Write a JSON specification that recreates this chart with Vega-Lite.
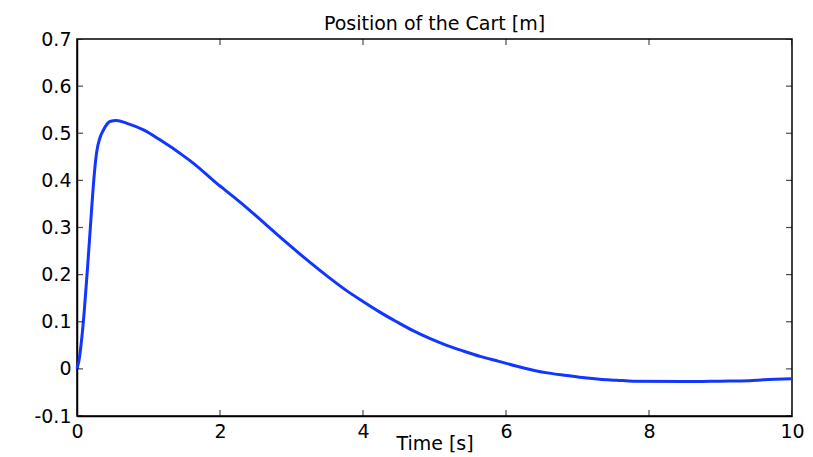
{
  "$schema": "https://vega.github.io/schema/vega-lite/v6.json",
  "autosize": "none",
  "padding": {"left": 77, "top": 39, "right": 21, "bottom": 41},
  "width": 715,
  "height": 377,
  "background": "white",
  "config": {
    "view": {"stroke": "black", "strokeWidth": 1.5},
    "font": "DejaVu Sans",
    "axis": {"grid": false, "domainColor": "black", "labelColor": "black", "titleColor": "black", "labelFontSize": 19, "titleFontSize": 19, "titleFontWeight": "normal", "labelFont": "DejaVu Sans", "titleFont": "DejaVu Sans", "domainWidth": 1.5, "labelFlush": false, "labelOverlap": false, "ticks": false, "labelPadding": 6}
  },
  "title": {"text": "Position of the Cart [m]", "fontSize": 19, "fontWeight": "normal", "font": "DejaVu Sans", "color": "black", "offset": -19, "baseline": "alphabetic", "anchor": "middle"},
  "datasets": {
    "curve": [
      {"t": 0, "v": 0},
      {"t": 0.03, "v": 0.02},
      {"t": 0.07, "v": 0.07},
      {"t": 0.1, "v": 0.12},
      {"t": 0.15, "v": 0.22},
      {"t": 0.205, "v": 0.34},
      {"t": 0.24, "v": 0.41},
      {"t": 0.275, "v": 0.46},
      {"t": 0.32, "v": 0.49},
      {"t": 0.37, "v": 0.507},
      {"t": 0.46, "v": 0.525},
      {"t": 0.55, "v": 0.527},
      {"t": 0.7, "v": 0.521},
      {"t": 0.93, "v": 0.507},
      {"t": 1.16, "v": 0.486},
      {"t": 1.49, "v": 0.452},
      {"t": 1.63, "v": 0.436},
      {"t": 1.95, "v": 0.394},
      {"t": 2.2, "v": 0.364},
      {"t": 2.42, "v": 0.336},
      {"t": 2.65, "v": 0.305},
      {"t": 2.89, "v": 0.273},
      {"t": 3.17, "v": 0.237},
      {"t": 3.54, "v": 0.192},
      {"t": 3.77, "v": 0.166},
      {"t": 4.0, "v": 0.143},
      {"t": 4.23, "v": 0.121},
      {"t": 4.47, "v": 0.1},
      {"t": 4.7, "v": 0.081},
      {"t": 4.94, "v": 0.064},
      {"t": 5.17, "v": 0.05},
      {"t": 5.4, "v": 0.038},
      {"t": 5.65, "v": 0.026},
      {"t": 5.9, "v": 0.016},
      {"t": 6.14, "v": 0.006},
      {"t": 6.38, "v": -0.003},
      {"t": 6.6, "v": -0.009},
      {"t": 6.85, "v": -0.014},
      {"t": 7.1, "v": -0.019},
      {"t": 7.31, "v": -0.022},
      {"t": 7.55, "v": -0.024},
      {"t": 7.78, "v": -0.026},
      {"t": 8.5, "v": -0.027},
      {"t": 9.0, "v": -0.026},
      {"t": 9.4, "v": -0.025},
      {"t": 9.6, "v": -0.023},
      {"t": 10, "v": -0.021}
    ],
    "xticks": [{"t": 0}, {"t": 2}, {"t": 4}, {"t": 6}, {"t": 8}, {"t": 10}],
    "yticks": [{"v": -0.1}, {"v": 0}, {"v": 0.1}, {"v": 0.2}, {"v": 0.3}, {"v": 0.4}, {"v": 0.5}, {"v": 0.6}, {"v": 0.7}]
  },
  "layer": [
    {
      "data": {"name": "curve"},
      "mark": {"type": "line", "color": "#1136ff", "strokeWidth": 3, "interpolate": "monotone"},
      "encoding": {
        "x": {"field": "t", "type": "quantitative", "scale": {"domain": [0, 10], "nice": false, "zero": false},
          "axis": {"title": "Time [s]", "values": [0, 2, 4, 6, 8, 10], "titleY": 33, "titleBaseline": "alphabetic"}},
        "y": {"field": "v", "type": "quantitative", "scale": {"domain": [-0.1, 0.7], "nice": false, "zero": false},
          "axis": {"title": null, "values": [-0.1, 0, 0.1, 0.2, 0.3, 0.4, 0.5, 0.6, 0.7],
            "labelExpr": "abs(datum.value) < 1e-9 ? '0' : (datum.value < 0 ? '-' + format(-datum.value, '.1f') : format(datum.value, '.1f'))"}}
      }
    },
    {
      "data": {"name": "xticks"},
      "mark": {"type": "tick", "orient": "vertical", "color": "black", "size": 12, "thickness": 1.2, "clip": true},
      "encoding": {
        "x": {"field": "t", "type": "quantitative", "axis": {"title": "Time [s]", "values": [0, 2, 4, 6, 8, 10], "titleY": 33, "titleBaseline": "alphabetic"}},
        "y": {"datum": -0.1, "type": "quantitative", "axis": {"title": null, "values": [-0.1, 0, 0.1, 0.2, 0.3, 0.4, 0.5, 0.6, 0.7],
            "labelExpr": "abs(datum.value) < 1e-9 ? '0' : (datum.value < 0 ? '-' + format(-datum.value, '.1f') : format(datum.value, '.1f'))"}}
      }
    },
    {
      "data": {"name": "xticks"},
      "mark": {"type": "tick", "orient": "vertical", "color": "black", "size": 12, "thickness": 1.2, "clip": true},
      "encoding": {
        "x": {"field": "t", "type": "quantitative", "axis": {"title": "Time [s]", "values": [0, 2, 4, 6, 8, 10], "titleY": 33, "titleBaseline": "alphabetic"}},
        "y": {"datum": 0.7, "type": "quantitative", "axis": {"title": null, "values": [-0.1, 0, 0.1, 0.2, 0.3, 0.4, 0.5, 0.6, 0.7],
            "labelExpr": "abs(datum.value) < 1e-9 ? '0' : (datum.value < 0 ? '-' + format(-datum.value, '.1f') : format(datum.value, '.1f'))"}}
      }
    },
    {
      "data": {"name": "yticks"},
      "mark": {"type": "tick", "orient": "horizontal", "color": "black", "size": 12, "thickness": 1.2, "clip": true},
      "encoding": {
        "y": {"field": "v", "type": "quantitative", "axis": {"title": null, "values": [-0.1, 0, 0.1, 0.2, 0.3, 0.4, 0.5, 0.6, 0.7],
            "labelExpr": "abs(datum.value) < 1e-9 ? '0' : (datum.value < 0 ? '-' + format(-datum.value, '.1f') : format(datum.value, '.1f'))"}},
        "x": {"datum": 0, "type": "quantitative", "axis": {"title": "Time [s]", "values": [0, 2, 4, 6, 8, 10], "titleY": 33, "titleBaseline": "alphabetic"}}
      }
    },
    {
      "data": {"name": "yticks"},
      "mark": {"type": "tick", "orient": "horizontal", "color": "black", "size": 12, "thickness": 1.2, "clip": true},
      "encoding": {
        "y": {"field": "v", "type": "quantitative", "axis": {"title": null, "values": [-0.1, 0, 0.1, 0.2, 0.3, 0.4, 0.5, 0.6, 0.7],
            "labelExpr": "abs(datum.value) < 1e-9 ? '0' : (datum.value < 0 ? '-' + format(-datum.value, '.1f') : format(datum.value, '.1f'))"}},
        "x": {"datum": 10, "type": "quantitative", "axis": {"title": "Time [s]", "values": [0, 2, 4, 6, 8, 10], "titleY": 33, "titleBaseline": "alphabetic"}}
      }
    }
  ]
}
